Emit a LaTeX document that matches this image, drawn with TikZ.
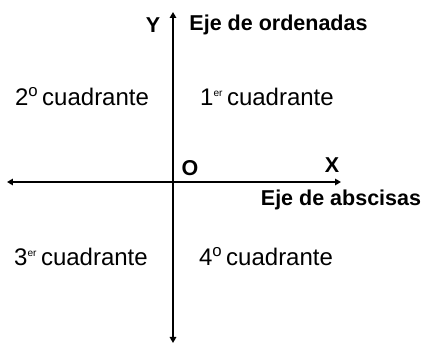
\documentclass[tikz,border=0pt]{standalone}
\usepackage{fontspec}
\setmainfont{Liberation Sans}
\usetikzlibrary{arrows.meta}

\begin{document}
\begin{tikzpicture}[x=1pt,y=1pt,>={Triangle[length=6pt,width=6.5pt]},
  axis/.style={line width=2pt},
  quad/.style={font=\fontsize{24}{28}\selectfont},
  bold/.style={font=\fontsize{21.5}{25}\selectfont\bfseries}]
\useasboundingbox (-173,-165) rectangle (250,182);
% axes
\coordinate (O) at (0,0);
\coordinate (xl) at (-166,0);
\coordinate (xr) at (168,0);
\coordinate (yt) at (0,170);
\coordinate (yb) at (0,-161);
\draw[axis,<->] (xl) -- (xr);
\draw[axis,<->] (yb) -- (yt);
% axis labels
\node[bold] (Y) at (-20,157) {Y};
\node[bold] (ord) at (105.5,157) {Eje de ordenadas};
\node[bold] (X) at (159,17) {X};
\node[bold] (abs) at (168,-18) {Eje de abscisas};
\node[bold] (Olbl) at (17,14) {O};
% quadrants
\node[quad] (q1) at (94,85) {1\textsuperscript{\scalebox{0.6}{er}}\,cuadrante};
\node[quad] (q2) at (-91,85) {2\textsuperscript{o}\,cuadrante};
\node[quad] (q3) at (-92,-75) {3\textsuperscript{\scalebox{0.6}{er}}\,cuadrante};
\node[quad] (q4) at (93,-75) {4\textsuperscript{o}\,cuadrante};
\end{tikzpicture}
\end{document}
